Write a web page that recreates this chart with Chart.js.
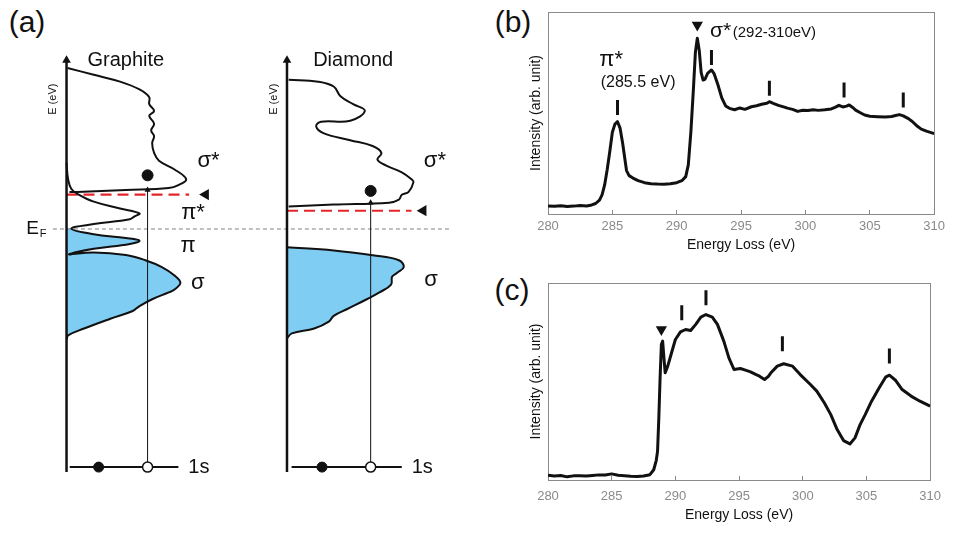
<!DOCTYPE html>
<html>
<head>
<meta charset="utf-8">
<script src="https://cdn.jsdelivr.net/npm/chart.js@4.4.1/dist/chart.umd.min.js"></script>
<style>
  body { margin: 0; background: #fff; width: 954px; height: 538px; position: relative; overflow: hidden;
         font-family: "Liberation Sans", Arial, sans-serif; }
  canvas { position: absolute; }
  .tag { position: absolute; width: 50px; height: 34px; line-height: 34px; text-align: center; font-size: 30px; color: #111; }
</style>
</head>
<body>
<div class="tag" style="left:2px;top:5px">(a)</div>
<div class="tag" style="left:488px;top:5px">(b)</div>
<div class="tag" style="left:487px;top:273px">(c)</div>
<canvas id="chartA" width="480" height="538" style="left:0;top:0"></canvas>
<canvas id="chartB" width="464" height="262" style="left:490px;top:0"></canvas>
<canvas id="chartC" width="464" height="262" style="left:490px;top:270px"></canvas>
<script>
// ---- (a) schematic DOS, [DOS (arb.), E (arb., E_F = 0)] ----
const graphiteUpper = [
  [0.1, 16.5], [2.8, 15.8], [5.5, 15.1], [7.5, 14.3], [8.5, 13.5], [8.5, 12.8], [9.0, 12.1],
  [8.5, 11.6], [9.0, 10.8], [8.7, 10.1], [9.0, 9.5], [8.8, 8.8], [9.0, 7.8], [9.5, 7.0],
  [11.1, 6.1], [12.3, 5.1], [11.5, 4.5], [10.5, 4.2], [6.1, 4.0], [1.1, 3.8], [0.3, 3.8]
];
const graphiteLower = [
  [0.0, 6.8], [0.16, 5.1], [0.5, 4.1], [1.3, 3.5], [2.8, 2.8], [5.5, 2.1], [7.5, 1.6],
  [7.0, 1.3], [6.5, 1.0], [2.8, 0.5], [0.5, 0.03],
  [2.8, -0.53], [6.1, -0.93], [7.5, -1.2], [6.5, -1.53], [2.8, -2.03], [0.23, -2.6],
  [2.8, -2.4], [6.1, -2.67], [8.1, -3.2], [9.8, -3.9], [11.0, -4.7], [11.7, -5.5],
  [11.1, -6.2], [10.5, -6.5], [8.8, -7.2], [7.5, -7.9], [6.8, -8.4], [4.5, -9.2],
  [1.8, -10.2], [0.16, -10.9], [0.03, -11.3]
];
const diamondUpper = [
  [0.17, 15.3], [3.2, 15.1], [4.8, 14.6], [5.5, 13.6], [6.8, 12.8], [8.0, 12.1], [6.5, 11.1],
  [3.5, 11.0], [3.0, 10.5], [3.8, 9.8], [6.5, 9.1], [8.8, 8.5], [9.7, 7.8], [9.3, 7.1],
  [10.2, 6.5], [11.8, 5.8], [12.8, 5.1], [13.0, 4.8], [12.5, 3.8], [11.8, 3.5], [11.5, 3.0],
  [10.5, 2.7], [4.8, 2.5], [0.17, 2.3]
];
const diamondValence = [
  [0.0, -1.87], [4.8, -2.2], [8.8, -2.7], [11.5, -3.2], [12.0, -3.9], [11.3, -4.5], [10.8, -4.9],
  [10.7, -5.7], [9.5, -6.5], [8.2, -7.2], [6.2, -8.2], [4.8, -8.9], [4.3, -9.5], [2.8, -10.2],
  [0.5, -10.7], [0.0, -11.2]
];
// edge lines (red dashed), transitions and 1s levels
const graphiteEdge = [[0, 3.53], [12.6, 3.53]];
const diamondEdge = [[0, 1.87], [12.8, 1.87]];
const edgeMarks = { graphite: [14.3, 3.53], diamond: [14.0, 1.87] };
const fermiLine = [[-1.4, 0], [39.6, 0]];
const energyAxis = [[0, -24.9], [0, 17.3]];
const coreLevel = -24.4;
const graphiteCore = [[0.33, coreLevel], [11.5, coreLevel]];
const diamondCore = [[0.47, coreLevel], [11.8, coreLevel]];
const graphiteHole = [[3.3, coreLevel]], graphiteSite = [[8.33, coreLevel]];
const diamondHole = [[3.6, coreLevel]], diamondSite = [[8.6, coreLevel]];
const graphiteJump = [[8.33, coreLevel], [8.33, 4.0]];
const diamondJump = [[8.6, coreLevel], [8.6, 2.7]];
const graphiteElectron = [[8.33, 5.5]];
const diamondElectron = [[8.6, 3.9]];

// ---- (b) graphite EELS ----
const lossB = [
  280.0, 280.5, 281.0, 281.5, 282.0, 282.5, 283.0, 283.4, 283.7, 284.0, 284.2, 284.4, 284.6, 284.8,
  285.0, 285.2, 285.4, 285.6, 285.8, 286.0, 286.1, 286.3, 286.6, 287.0, 287.5, 288.0, 288.5, 289.0,
  289.5, 290.0, 290.4, 290.7, 290.9, 291.1, 291.3, 291.45, 291.6, 291.75, 291.9, 292.05, 292.2, 292.4,
  292.7, 292.9, 293.2, 293.5, 293.8, 294.1, 294.5, 294.9, 295.3, 295.8, 296.2, 296.6, 297.0, 297.2,
  297.5, 297.9, 298.3, 298.6, 299.0, 299.4, 299.8, 300.2, 300.6, 301.0, 301.5, 302.0, 302.3, 302.6,
  302.9, 303.2, 303.4, 303.7, 303.9, 304.3, 304.6, 305.0, 305.6, 306.2, 306.7, 307.0, 307.3, 307.6,
  308.0, 308.3, 308.7, 309.0, 309.4, 310.0
];
const intensityB = [
  4.0, 3.8, 4.1, 3.7, 3.9, 4.2, 4.0, 4.5, 5.2, 6.9, 9.5, 14.4, 22.0, 30.9,
  40.5, 44.5, 45.7, 42.5, 35.0, 26.0, 21.5, 19.0, 17.8, 16.5, 15.5, 15.0, 14.8, 14.7,
  15.0, 15.5, 16.5, 18.5, 24.3, 40.7, 62.2, 80.0, 87.0, 81.0, 70.0, 66.3, 66.8, 69.6,
  71.3, 69.5, 64.0, 57.5, 53.5, 52.3, 51.6, 52.5, 51.8, 53.1, 53.6, 54.3, 54.8, 55.6,
  54.8, 53.8, 53.0, 52.4, 51.8, 50.8, 51.4, 51.2, 51.6, 51.3, 51.6, 52.0, 52.8, 53.8,
  53.0, 53.4, 54.0, 52.6, 51.4, 50.0, 49.0, 48.4, 48.2, 48.0, 48.3, 48.8, 49.2, 48.6,
  47.2, 45.8, 43.4, 42.0, 41.0, 39.8
];
const peakMarksB = [[285.4, 52.7], [292.7, 77.5], [297.2, 62.3], [303.0, 61.4], [307.6, 56.4]];
const edgeMarkB = [[291.6, 93.6]];

// ---- (c) diamond EELS ----
const lossC = [
  280.0, 280.5, 281.0, 281.5, 282.0, 282.5, 283.0, 283.5, 284.0, 284.5, 285.0, 285.5, 286.0, 286.5,
  287.0, 287.5, 288.0, 288.3, 288.5, 288.6, 288.7, 288.8, 288.9, 289.0, 289.1, 289.2, 289.4, 289.7,
  290.0, 290.4, 290.8, 291.2, 291.6, 292.0, 292.4, 292.9, 293.3, 293.8, 294.2, 294.6, 295.1, 295.5,
  295.9, 296.3, 296.6, 297.0, 297.3, 297.5, 298.0, 298.5, 299.2, 299.8, 300.6, 301.1, 301.7, 302.2,
  302.7, 303.2, 303.7, 304.1, 304.5, 304.9, 305.4, 306.0, 306.5, 306.8, 307.3, 307.8, 308.5, 309.2,
  310.0
];
const intensityC = [
  2.4, 2.0, 2.3, 1.6, 2.1, 2.2, 2.0, 2.3, 2.6, 2.5, 3.1, 2.4, 2.2, 1.9,
  1.8, 2.0, 2.7, 5.2, 10.0, 14.6, 31.5, 51.9, 68.8, 70.5, 62.0, 54.4, 57.8, 64.6,
  71.3, 75.2, 76.4, 75.9, 79.0, 82.7, 84.0, 82.7, 79.0, 70.5, 62.0, 56.1, 56.6, 55.8,
  54.9, 53.6, 52.7, 51.0, 52.6, 54.4, 57.8, 59.0, 57.8, 53.5, 48.5, 45.1, 39.1, 33.2,
  25.6, 20.0, 18.3, 21.4, 28.1, 33.2, 40.0, 46.8, 52.2, 53.2, 50.5, 45.9, 42.6, 40.0,
  37.5
];
const peakMarksC = [[290.5, 84.9], [292.4, 92.5], [298.4, 69.1], [306.8, 63.0]];
const edgeMarkC = [[288.9, 76.4]];

Chart.defaults.font.family = '"Liberation Sans", Arial, sans-serif';
Chart.defaults.color = "#111";

const toXY = arr => arr.map(p => ({ x: p[0], y: p[1] }));
const zipXY = (xs, ys) => xs.map((x, i) => ({ x, y: ys[i] }));

// filled (occupied) part: curve below E_F closed along the energy axis
function occupied(curve) {
    const pts = curve.filter(p => p[1] <= 0.05).map(p => ({ x: p[0], y: p[1] }));
    return [{ x: 0, y: pts[0].y }, ...pts, { x: 0, y: pts[pts.length - 1].y }];
}

// text placed in data coordinates
const textLabels = {
    id: "textLabels",
    afterDatasetsDraw(chart, args, opts) {
        const ctx = chart.ctx;
        (opts.items || []).forEach(it => {
            const px = chart.scales[it.axis || "x"].getPixelForValue(it.x);
            const py = chart.scales.y.getPixelForValue(it.y);
            ctx.save();
            ctx.font = `${it.size}px "Liberation Sans", Arial, sans-serif`;
            ctx.fillStyle = "#111";
            ctx.textAlign = it.align || "center";
            ctx.textBaseline = "middle";
            ctx.translate(px, py);
            if (it.rotate) ctx.rotate(it.rotate);
            ctx.fillText(it.text, 0, 0);
            ctx.restore();
        });
    },
};

const frame = {
    id: "frame",
    beforeDatasetsDraw(chart) {
        const { ctx, chartArea: a } = chart;
        ctx.save();
        ctx.strokeStyle = "#8a8a8a";
        ctx.lineWidth = 1;
        ctx.strokeRect(Math.round(a.left) + 0.5, Math.round(a.top) + 0.5, Math.round(a.width), Math.round(a.height));
        ctx.restore();
    },
};

const line = (data, axis, order, extra) => Object.assign({
    data, xAxisID: axis, yAxisID: "y", showLine: true, borderColor: "#111", borderWidth: 2,
    tension: 0, pointRadius: 0, fill: false, order,
}, extra || {});
const marks = (data, axis, order, extra) => Object.assign({
    data, xAxisID: axis, yAxisID: "y", showLine: false, pointRadius: 5,
    pointBackgroundColor: "#111", pointBorderColor: "#111", pointBorderWidth: 1, order,
}, extra || {});

// ---------- (a) ----------
const blue = "#80cdf3";
const red = "#e3262b";
const smooth = { tension: 0.4 };
const arrowHead = { pointStyle: "triangle", pointRadius: 5, pointBorderWidth: 0 };
const smallHead = { pointStyle: "triangle", pointRadius: 3.5, pointBorderWidth: 0 };
const leftHead = { pointStyle: "triangle", pointRotation: -90, pointRadius: 6.5, pointBorderWidth: 0 };
const openDot = { pointBackgroundColor: "#fff", pointBorderWidth: 1.5 };

new Chart(document.getElementById("chartA"), {
    type: "scatter",
    data: {
        datasets: [
            line(occupied(graphiteLower), "xg", 20, { borderWidth: 0, backgroundColor: blue, fill: "shape", tension: 0.4 }),
            line(occupied(diamondValence), "xd", 20, { borderWidth: 0, backgroundColor: blue, fill: "shape", tension: 0.4 }),
            line(toXY(fermiLine), "xg", 19, { borderColor: "#808080", borderWidth: 1, borderDash: [4, 3] }),
            line(toXY(graphiteEdge), "xg", 18, { borderColor: red, borderWidth: 2.2, borderDash: [11, 6] }),
            line(toXY(diamondEdge), "xd", 18, { borderColor: red, borderWidth: 2.2, borderDash: [11, 6] }),
            line(toXY(graphiteUpper), "xg", 15, smooth),
            line(toXY(graphiteLower), "xg", 15, smooth),
            line(toXY(diamondUpper), "xd", 15, smooth),
            line(toXY(diamondValence), "xd", 15, smooth),
            line(toXY(graphiteJump), "xg", 12, { borderWidth: 1 }),
            line(toXY(diamondJump), "xd", 12, { borderWidth: 1 }),
            marks(toXY([graphiteJump[1]]), "xg", 11, smallHead),
            marks(toXY([diamondJump[1]]), "xd", 11, smallHead),
            line(toXY(energyAxis), "xg", 10, { borderWidth: 2.5 }),
            line(toXY(energyAxis), "xd", 10, { borderWidth: 2.5 }),
            marks(toXY([energyAxis[1]]), "xg", 9, arrowHead),
            marks(toXY([energyAxis[1]]), "xd", 9, arrowHead),
            line(toXY(graphiteCore), "xg", 8),
            line(toXY(diamondCore), "xd", 8),
            marks(toXY(graphiteHole), "xg", 7),
            marks(toXY(diamondHole), "xd", 7),
            marks(toXY(graphiteSite), "xg", 7, openDot),
            marks(toXY(diamondSite), "xd", 7, openDot),
            marks(toXY(graphiteElectron), "xg", 6, { pointRadius: 5.5 }),
            marks(toXY(diamondElectron), "xd", 6, { pointRadius: 5.5 }),
            marks(toXY([edgeMarks.graphite]), "xg", 5, leftHead),
            marks(toXY([edgeMarks.diamond]), "xd", 5, leftHead),
        ],
    },
    options: {
        responsive: false,
        animation: false,
        layout: { padding: 0 },
        plugins: {
            legend: { display: false },
            tooltip: { enabled: false },
            textLabels: {
                items: [
                    { text: "Graphite", x: 6.1, y: 17.3, axis: "xg", size: 20 },
                    { text: "Diamond", x: 6.8, y: 17.3, axis: "xd", size: 20 },
                    { text: "E (eV)", x: -1.4, y: 13.3, axis: "xg", size: 11, rotate: -Math.PI / 2 },
                    { text: "E (eV)", x: -1.3, y: 13.3, axis: "xd", size: 11, rotate: -Math.PI / 2 },
                    { text: "σ*", x: 14.6, y: 7.0, axis: "xg", size: 22 },
                    { text: "π*", x: 13.0, y: 1.6, axis: "xg", size: 22 },
                    { text: "π", x: 12.5, y: -1.7, axis: "xg", size: 22 },
                    { text: "σ", x: 13.5, y: -5.5, axis: "xg", size: 22 },
                    { text: "σ*", x: 15.2, y: 7.0, axis: "xd", size: 22 },
                    { text: "σ", x: 14.8, y: -5.2, axis: "xd", size: 22 },
                    { text: "1s", x: 13.6, y: coreLevel, axis: "xg", size: 20 },
                    { text: "1s", x: 13.9, y: coreLevel, axis: "xd", size: 20 },
                    { text: "E", x: -3.5, y: 0.0, axis: "xg", size: 19 },
                    { text: "F", x: -2.4, y: -0.5, axis: "xg", size: 11 },
                ],
            },
        },
        scales: {
            xg: { type: "linear", display: false, min: -6.17, max: 41.83 },
            xd: { type: "linear", display: false, min: -28.83, max: 19.17 },
            y: { type: "linear", display: false, min: -31.0, max: 22.8 },
        },
    },
    plugins: [textLabels],
});

// ---------- (b), (c) ----------
function spectrumChart(id, losses, values, peaks, edge, opts) {
    return new Chart(document.getElementById(id), {
        type: "scatter",
        data: {
            datasets: [
                line(zipXY(losses, values), "x", 5, { borderWidth: 3, borderJoinStyle: "round" }),
                marks(toXY(peaks), "x", 2, { pointStyle: "line", pointRotation: 90, pointRadius: 7.5, pointBorderWidth: 3 }),
                marks(toXY(edge), "x", 2, { pointStyle: "triangle", pointRotation: 180, pointRadius: 6.5, pointBorderWidth: 0 }),
            ],
        },
        options: {
            responsive: false,
            animation: false,
            layout: { padding: { left: 38, right: opts.right, top: opts.top, bottom: 8 } },
            plugins: {
                legend: { display: false },
                tooltip: { enabled: false },
                textLabels: { items: opts.labels },
            },
            scales: {
                x: {
                    type: "linear", min: 280, max: 310,
                    ticks: { stepSize: 5, color: "#8a8a8a", font: { size: 13 }, padding: opts.tickPad },
                    grid: { display: true, drawOnChartArea: false, drawTicks: true, tickLength: -4, color: "#8a8a8a" },
                    border: { display: false },
                    title: { display: true, text: "Energy Loss (eV)", color: "#111", font: { size: 14 }, padding: 0 },
                    afterFit: s => { s.height = opts.axisHeight; },
                },
                y: {
                    type: "linear", min: 0, max: 100,
                    ticks: { display: false },
                    grid: { display: false },
                    border: { display: false },
                    title: { display: true, text: "Intensity (arb. unit)", color: "#111", font: { size: 14 }, padding: 0 },
                    afterFit: s => { s.width = 20; },
                },
            },
        },
        plugins: [frame, textLabels],
    });
}

spectrumChart("chartB", lossB, intensityB, peakMarksB, edgeMarkB, {
    right: 19, top: 12, axisHeight: 40, tickPad: 9,
    labels: [
        { text: "π*", x: 284.9, y: 76.2, size: 22 },
        { text: "(285.5 eV)", x: 287.0, y: 64.9, size: 16 },
        { text: "σ*", x: 293.4, y: 90.6, size: 21 },
        { text: "(292-310eV)", x: 294.35, y: 89.6, size: 15, align: "left" },
    ],
});

spectrumChart("chartC", lossC, intensityC, peakMarksC, edgeMarkC, {
    right: 22, top: 13, axisHeight: 44, tickPad: 13,
    labels: [],
});
</script>
</body>
</html>
